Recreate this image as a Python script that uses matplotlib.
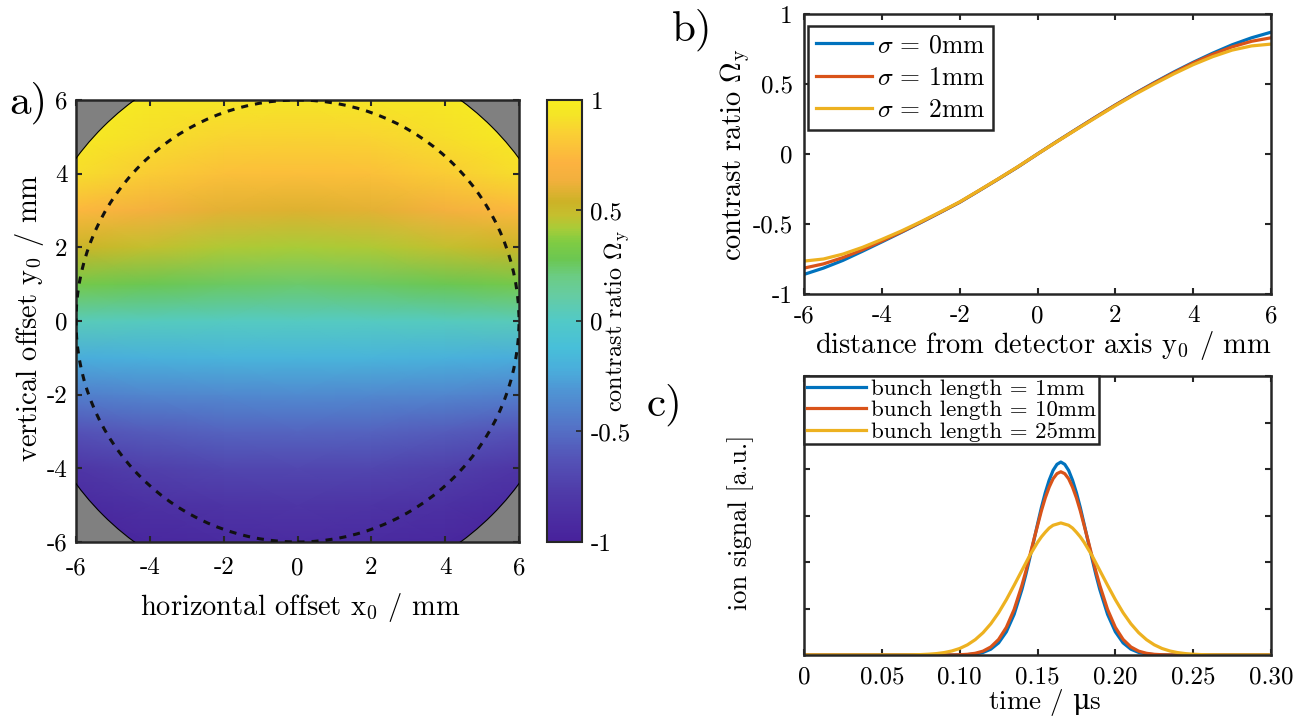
import numpy as np
import matplotlib
matplotlib.use('Agg')
import matplotlib.pyplot as plt
from matplotlib.colors import LinearSegmentedColormap
from matplotlib.patches import Circle

plt.rcParams['font.family'] = ['cmr10', 'DejaVu Serif']
plt.rcParams['mathtext.fontset'] = 'cm'
plt.rcParams['axes.unicode_minus'] = False
plt.rcParams['axes.formatter.use_mathtext'] = True

# ---------------- data ----------------
# panel a: contrast ratio map (rows: y0 from -6 to 6, cols: x0)
map_x = [-6, -4, -2, 0, 2, 4, 6]
map_y = [-6, -5, -4, -3, -2, -1, 0, 1, 2, 3, 4, 5, 6]
omega_map = [
    [-1.00, -0.94, -0.91, -0.90, -0.91, -0.94, -1.00],
    [-0.92, -0.86, -0.83, -0.82, -0.83, -0.86, -0.92],
    [-0.82, -0.75, -0.71, -0.70, -0.71, -0.75, -0.82],
    [-0.63, -0.58, -0.55, -0.54, -0.55, -0.58, -0.63],
    [-0.42, -0.39, -0.37, -0.36, -0.37, -0.39, -0.42],
    [-0.22, -0.20, -0.18, -0.18, -0.18, -0.20, -0.22],
    [0.04, 0.03, 0.02, 0.02, 0.02, 0.03, 0.04],
    [0.32, 0.28, 0.25, 0.24, 0.25, 0.28, 0.32],
    [0.53, 0.47, 0.43, 0.42, 0.43, 0.47, 0.53],
    [0.74, 0.65, 0.60, 0.58, 0.60, 0.65, 0.74],
    [0.90, 0.83, 0.78, 0.77, 0.78, 0.83, 0.90],
    [0.97, 0.91, 0.87, 0.86, 0.87, 0.91, 0.97],
    [1.00, 0.96, 0.94, 0.93, 0.94, 0.96, 1.00],
]
detector_radius = 7.45
beam_radius = 6.0
ab_ticks = [-6, -4, -2, 0, 2, 4, 6]
ab_ticklabels = ['-6', '-4', '-2', '0', '2', '4', '6']
cb_ticks = [-1, -0.5, 0, 0.5, 1]
cb_ticklabels = ['-1', '-0.5', '0', '0.5', '1']

# panel b: contrast ratio vs y0
y0 = [-6, -5.5, -5, -4.5, -4, -3.5, -3, -2.5, -2, -1.5, -1, -0.5, 0,
      0.5, 1, 1.5, 2, 2.5, 3, 3.5, 4, 4.5, 5, 5.5, 6]
omega_s0 = [-0.860, -0.815, -0.760, -0.695, -0.628, -0.560, -0.490, -0.418, -0.345,
            -0.262, -0.178, -0.092, 0.000, 0.090, 0.178, 0.265, 0.350, 0.432,
            0.510, 0.585, 0.655, 0.720, 0.780, 0.830, 0.870]
omega_s1 = [-0.815, -0.785, -0.740, -0.685, -0.622, -0.557, -0.488, -0.417, -0.344,
            -0.261, -0.177, -0.091, 0.000, 0.089, 0.177, 0.264, 0.349, 0.430,
            0.507, 0.580, 0.650, 0.712, 0.765, 0.805, 0.830]
omega_s2 = [-0.765, -0.750, -0.715, -0.667, -0.610, -0.550, -0.484, -0.414, -0.342,
            -0.260, -0.176, -0.090, 0.000, 0.088, 0.175, 0.260, 0.345, 0.425,
            0.500, 0.572, 0.638, 0.695, 0.742, 0.772, 0.785]
b_labels = [r'$\sigma\, =\, 0$mm', r'$\sigma\, =\, 1$mm', r'$\sigma\, =\, 2$mm']
b_yticks = [-1, -0.5, 0, 0.5, 1]
b_yticklabels = ['-1', '-0.5', '0', '0.5', '1']

# panel c: ion signal vs time
t_us = [0,
        0.06, 0.065, 0.07, 0.075, 0.08, 0.085, 0.09, 0.095, 0.10, 0.105, 0.11, 0.115,
        0.12, 0.125, 0.13, 0.135, 0.14,
        0.1425, 0.145, 0.1475, 0.15, 0.1525, 0.155, 0.1575, 0.16, 0.1625, 0.165,
        0.1675, 0.17, 0.1725, 0.175, 0.1775, 0.18, 0.1825, 0.185, 0.1875,
        0.19, 0.195, 0.20, 0.205, 0.21, 0.215, 0.22, 0.225, 0.23, 0.235, 0.24, 0.245,
        0.25, 0.255, 0.26, 0.265, 0.27,
        0.30]
sig_1mm = [0,
           0, 0, 0, 0, 0, 0, 0, 0, 0.003, 0.008, 0.022, 0.055, 0.125, 0.26, 0.50, 0.875, 1.41,
           1.73, 2.08, 2.44, 2.81, 3.17, 3.49, 3.76, 3.97, 4.10, 4.15, 4.10, 3.97, 3.76, 3.49,
           3.17, 2.81, 2.44, 2.08, 1.73,
           1.41, 0.875, 0.50, 0.26, 0.125, 0.055, 0.022, 0.008, 0.003, 0, 0, 0, 0, 0, 0, 0, 0,
           0]
sig_10mm = [0,
            0, 0, 0, 0, 0, 0, 0.001, 0.002, 0.006, 0.015, 0.037, 0.083, 0.173, 0.334, 0.595,
            0.98, 1.50,
            1.80, 2.13, 2.46, 2.78, 3.10, 3.38, 3.61, 3.79, 3.90, 3.94, 3.90, 3.79, 3.61, 3.38,
            3.10, 2.78, 2.46, 2.13, 1.80,
            1.50, 0.98, 0.595, 0.334, 0.173, 0.083, 0.037, 0.015, 0.006, 0.002, 0.001, 0, 0, 0,
            0, 0, 0,
            0]
sig_25mm = [0,
            0.001, 0.002, 0.004, 0.009, 0.017, 0.030, 0.052, 0.087, 0.140, 0.219, 0.330, 0.479,
            0.671, 0.909, 1.19, 1.50, 1.82,
            1.98, 2.14, 2.28, 2.42, 2.54, 2.64, 2.73, 2.79, 2.815, 2.84, 2.815, 2.79, 2.73,
            2.64, 2.54, 2.42, 2.28, 2.14, 1.98,
            1.82, 1.50, 1.19, 0.909, 0.671, 0.479, 0.330, 0.219, 0.140, 0.087, 0.052, 0.030,
            0.017, 0.009, 0.004, 0.002, 0.001,
            0]
c_labels = ['bunch length = 1mm', 'bunch length = 10mm', 'bunch length = 25mm']
c_xticks = [0, 0.05, 0.10, 0.15, 0.20, 0.25, 0.30]
c_xticklabels = ['0', '0.05', '0.10', '0.15', '0.20', '0.25', '0.30']
c_yticks = [0, 1, 2, 3, 4, 5, 6]

# colormap
cmap_pos = [0.00, 0.11, 0.19, 0.26, 0.34, 0.39, 0.44, 0.50, 0.56, 0.60, 0.64, 0.68,
            0.71, 0.74, 0.77, 0.82, 0.86, 0.93, 0.97, 1.00]
cmap_rgb = [(0.28, 0.13, 0.61), (0.31, 0.23, 0.66), (0.33, 0.33, 0.72), (0.33, 0.45, 0.78),
            (0.31, 0.58, 0.83), (0.29, 0.68, 0.86), (0.28, 0.75, 0.85), (0.32, 0.79, 0.78),
            (0.40, 0.80, 0.63), (0.42, 0.80, 0.52), (0.42, 0.78, 0.32), (0.50, 0.80, 0.26),
            (0.66, 0.80, 0.22), (0.77, 0.75, 0.18), (0.80, 0.70, 0.15), (0.95, 0.69, 0.24),
            (0.99, 0.70, 0.25), (0.98, 0.82, 0.20), (0.96, 0.90, 0.15), (0.97, 0.93, 0.12)]

C_BLUE = '#0072BD'
C_ORANGE = '#D95319'
C_YELLOW = '#EDB120'
SPINE = '#262626'
TICK_FS = 18
LABEL_FS = 20.5

cmap = LinearSegmentedColormap.from_list('contrast', list(zip(cmap_pos, cmap_rgb)))

W, H = 1314, 716
fig = plt.figure(figsize=(W / 100, H / 100), dpi=100)


def px_axes(l, t, r, b):
    return fig.add_axes([l / W, 1 - b / H, (r - l) / W, (b - t) / H])


def style(ax, xpad=8, ypad=7):
    for s in ax.spines.values():
        s.set_linewidth(1.8)
        s.set_color(SPINE)
    ax.tick_params(direction='in', length=4.5, width=1.5, top=True, right=True,
                   labelsize=TICK_FS, colors=SPINE, labelcolor='black')
    ax.tick_params(axis='x', pad=xpad)
    ax.tick_params(axis='y', pad=ypad)


def place_labels(ax, l, t, r, b, xl_px, yl_px):
    # put axis label centres at given figure pixel positions
    w, h = r - l, b - t
    ax.xaxis.set_label_coords((xl_px[0] - l) / w, (b - xl_px[1]) / h)
    ax.yaxis.set_label_coords((yl_px[0] - l) / w, (b - yl_px[1]) / h)
    ax.xaxis.label.set_va('center')
    ax.xaxis.label.set_ha('center')
    ax.yaxis.label.set_va('center')
    ax.yaxis.label.set_ha('center')


# ---------------- panel a ----------------
A = (76, 100, 519, 542)
axa = px_axes(*A)
axa.set_facecolor('#808080')
X, Y = np.meshgrid(map_x, map_y)
mesh = axa.pcolormesh(X, Y, np.array(omega_map), cmap=cmap, vmin=-1, vmax=1,
                      shading='gouraud')
clip = Circle((0, 0), detector_radius, transform=axa.transData)
mesh.set_clip_path(clip)
axa.add_patch(Circle((0, 0), detector_radius, fill=False, ec='black', lw=0.8, zorder=3))
axa.add_patch(Circle((0, 0), beam_radius, fill=False, ec='#111111', lw=2.2,
                     linestyle=(0, (2.3, 2.3)), zorder=4))
axa.set_xlim(-6, 6)
axa.set_ylim(-6, 6)
axa.set_xticks(ab_ticks)
axa.set_xticklabels(ab_ticklabels)
axa.set_yticks(ab_ticks)
axa.set_yticklabels(ab_ticklabels)
style(axa, xpad=11, ypad=6)
axa.set_xlabel(r'horizontal offset x$_0$ / mm', fontsize=LABEL_FS)
axa.set_ylabel(r'vertical offset y$_0$ / mm', fontsize=LABEL_FS)
place_labels(axa, *A, (300, 607), (30, 318))

cax = px_axes(547, 100, 582, 542)
cb = fig.colorbar(mesh, cax=cax)
cb.set_ticks(cb_ticks)
cb.set_ticklabels(cb_ticklabels)
cb.outline.set_linewidth(1.5)
cb.outline.set_edgecolor(SPINE)
cax.tick_params(direction='in', length=4, width=1.2, right=True, left=False,
                labelsize=TICK_FS, pad=6, colors=SPINE, labelcolor='black')
fig.text(617 / W, 1 - 321 / H, r'contrast ratio $\Omega_{\mathrm{y}}$', rotation=90,
         ha='center', va='center', fontsize=17.5)

# ---------------- panel b ----------------
B = (804, 14, 1271, 294)
axb = px_axes(*B)
axb.plot(y0, omega_s0, color=C_BLUE, lw=2.3, label=b_labels[0])
axb.plot(y0, omega_s1, color=C_ORANGE, lw=2.3, label=b_labels[1])
axb.plot(y0, omega_s2, color=C_YELLOW, lw=2.3, label=b_labels[2])
axb.set_xlim(-6, 6)
axb.set_ylim(-1, 1)
axb.set_xticks(ab_ticks)
axb.set_xticklabels(ab_ticklabels)
axb.set_yticks(b_yticks)
axb.set_yticklabels(b_yticklabels)
style(axb, xpad=8, ypad=8)
axb.set_xlabel(r'distance from detector axis y$_0$ / mm', fontsize=LABEL_FS)
axb.set_ylabel(r'contrast ratio $\Omega_{\mathrm{y}}$', fontsize=LABEL_FS)
place_labels(axb, *B, (1043, 346), (735, 155))
legb = axb.legend(loc='upper left', bbox_to_anchor=(0.0086, 0.957), borderaxespad=0,
                  fontsize=18.5, handlelength=2.2, handletextpad=0.2, labelspacing=0.33,
                  borderpad=0.3, fancybox=False, framealpha=1, edgecolor=SPINE)
legb.get_frame().set_linewidth(1.8)

# ---------------- panel c ----------------
Cx = (804, 376, 1271, 655)
axc = px_axes(*Cx)
axc.plot(t_us, sig_1mm, color=C_BLUE, lw=2.3, label=c_labels[0])
axc.plot(t_us, sig_10mm, color=C_ORANGE, lw=2.3, label=c_labels[1])
axc.plot(t_us, sig_25mm, color=C_YELLOW, lw=2.3, label=c_labels[2])
axc.set_xlim(0, 0.30)
axc.set_ylim(0, 6)
axc.set_xticks(c_xticks)
axc.set_xticklabels(c_xticklabels)
axc.set_yticks(c_yticks)
axc.set_yticklabels([])
style(axc, xpad=8, ypad=8)
axc.set_xlabel(r'time / $\mathrm{\mu}$s', fontsize=19.5, math_fontfamily='dejavuserif')
axc.set_ylabel('ion signal [a.u.]', fontsize=19)
place_labels(axc, *Cx, (1045, 703), (741, 522))
legc = axc.legend(loc='upper left', bbox_to_anchor=(0, 1), borderaxespad=0,
                  fontsize=16.5, handlelength=2.6, handletextpad=0.2, labelspacing=0.06,
                  borderpad=0.12, fancybox=False, framealpha=1, edgecolor=SPINE)
legc.get_frame().set_linewidth(1.8)

# panel letters
fig.text(9 / W, 1 - 103 / H, 'a)', fontsize=31, ha='left', va='center')
fig.text(672 / W, 1 - 30 / H, 'b)', fontsize=31, ha='left', va='center')
fig.text(647 / W, 1 - 405 / H, 'c)', fontsize=31, ha='left', va='center')

fig.savefig('out.png', dpi=100)
